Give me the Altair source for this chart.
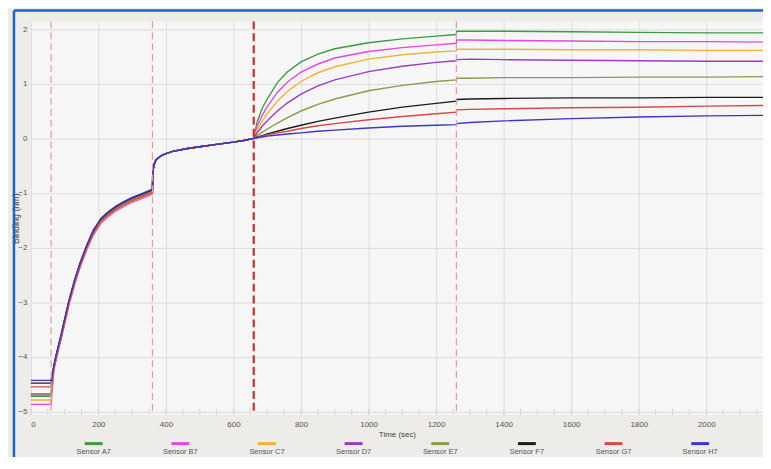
import altair as alt
import pandas as pd

# ---------------- data ----------------
sensors = ["Sensor A7", "Sensor B7", "Sensor C7", "Sensor D7",
           "Sensor E7", "Sensor F7", "Sensor G7", "Sensor H7"]
colors = ["#3e9a3e", "#e04ae0", "#f2b23a", "#9a3ac8",
          "#8c9a4a", "#1c1c1c", "#d84848", "#3838c4"]

# baseline (0-60 s): flat level of each sensor
baseline_t = [0, 60]
baseline_level = [-4.72, -4.87, -4.79, -4.68, -4.70, -4.48, -4.55, -4.43]

# loading step (60-360 s): shared curve + small per-sensor shift
load_t = [68, 75, 90, 100, 113, 130, 145, 165, 185, 208, 230, 252, 275, 300, 330, 360]
load_v = [-4.20, -4.00, -3.62, -3.35, -3.00, -2.62, -2.33, -2.00, -1.72, -1.50,
          -1.38, -1.28, -1.20, -1.12, -1.05, -0.97]
load_shift = [0.00, -0.05, -0.03, 0.01, 0.00, 0.03, -0.02, 0.04]

# second baseline (360-660 s)
base2_t = [361, 365, 370, 385, 400, 420, 460, 500, 550, 600, 630, 660]
base2_v = [-0.62, -0.48, -0.40, -0.32, -0.28, -0.24, -0.19, -0.155, -0.11, -0.07, -0.04, 0.0]

# association (660-1260 s)
assoc_t = [660, 670, 685, 700, 730, 760, 800, 850, 900, 1000, 1100, 1200, 1260]
assoc_v = [
    [0, 0.30, 0.55, 0.72, 1.02, 1.22, 1.40, 1.54, 1.64, 1.75, 1.82, 1.87, 1.90],
    [0, 0.22, 0.42, 0.58, 0.84, 1.03, 1.21, 1.36, 1.47, 1.59, 1.66, 1.71, 1.74],
    [0, 0.15, 0.32, 0.45, 0.68, 0.86, 1.04, 1.20, 1.31, 1.45, 1.53, 1.58, 1.60],
    [0, 0.10, 0.22, 0.32, 0.50, 0.65, 0.81, 0.96, 1.07, 1.22, 1.32, 1.39, 1.42],
    [0, 0.05, 0.11, 0.17, 0.28, 0.38, 0.50, 0.62, 0.72, 0.87, 0.97, 1.04, 1.07],
    [0, 0.02, 0.05, 0.08, 0.13, 0.18, 0.24, 0.31, 0.37, 0.48, 0.57, 0.64, 0.68],
    [0, 0.015, 0.04, 0.06, 0.10, 0.13, 0.18, 0.23, 0.27, 0.34, 0.40, 0.45, 0.48],
    [0, 0.01, 0.025, 0.04, 0.06, 0.08, 0.10, 0.13, 0.15, 0.19, 0.22, 0.24, 0.25],
]

# dissociation (1260-2168 s)
diss_t = [1261, 1300, 1400, 1600, 1800, 2000, 2168]
diss_v = [
    [1.96, 1.96, 1.96, 1.95, 1.94, 1.93, 1.93],
    [1.80, 1.80, 1.79, 1.78, 1.77, 1.77, 1.76],
    [1.63, 1.63, 1.63, 1.62, 1.62, 1.61, 1.61],
    [1.44, 1.45, 1.44, 1.43, 1.42, 1.41, 1.41],
    [1.10, 1.10, 1.11, 1.11, 1.12, 1.12, 1.13],
    [0.71, 0.72, 0.73, 0.74, 0.74, 0.75, 0.75],
    [0.52, 0.53, 0.54, 0.56, 0.57, 0.59, 0.60],
    [0.27, 0.29, 0.32, 0.36, 0.39, 0.41, 0.42],
]

step_events = [60, 360, 1260]
assoc_event = [660]
x_ticks = [0, 200, 400, 600, 800, 1000, 1200, 1400, 1600, 1800, 2000]
minor_ticks = [50, 100, 150, 250, 300, 350, 450, 500, 550, 650, 700, 750, 850, 900, 950,
               1050, 1100, 1150, 1250, 1300, 1350, 1450, 1500, 1550, 1650, 1700, 1750,
               1850, 1900, 1950, 2050, 2100, 2150]
y_ticks = [-5, -4, -3, -2, -1, 0, 1, 2]

# ---------------- build table ----------------
rows = []
for i, s in enumerate(sensors):
    for t in baseline_t:
        rows.append({"sensor": s, "t": t, "v": baseline_level[i]})
    for t, v in zip(load_t, load_v):
        rows.append({"sensor": s, "t": t, "v": v + load_shift[i]})
    for t, v in zip(base2_t, base2_v):
        rows.append({"sensor": s, "t": t, "v": v})
    for t, v in zip(assoc_t[1:], assoc_v[i][1:]):
        rows.append({"sensor": s, "t": t, "v": v})
    for t, v in zip(diss_t, diss_v[i]):
        rows.append({"sensor": s, "t": t, "v": v})
df = pd.DataFrame(rows)

FONT = "Liberation Sans Narrow, Arial Narrow, Liberation Sans, sans-serif"
W, H = 737, 396

xscale = alt.Scale(domain=[0, 2168], nice=False, zero=False)
yscale = alt.Scale(domain=[-5.06, 2.14], nice=False, zero=False)
cscale = alt.Scale(domain=sensors, range=colors)
xaxis = alt.Axis(values=x_ticks, title="Time (sec)", labelPadding=6,
                 titlePadding=2, format="d")


def xenc():
    return alt.X("t:Q", scale=xscale, axis=xaxis, title="Time (sec)")


lines = alt.Chart(df).mark_line(strokeWidth=1.4).encode(
    x=xenc(),
    y=alt.Y("v:Q", scale=yscale,
            axis=alt.Axis(values=y_ticks, title="Binding (nm)", labelPadding=4,
                          titleFontSize=9, titleX=-10, titleY=H / 2, format="d")),
    color=alt.Color("sensor:N", scale=cscale, legend=None),
    order=alt.Order("t:Q"),
)

minor = alt.Chart(pd.DataFrame({"t": minor_ticks + x_ticks})).mark_rule(
    color="#d6d6d6", strokeWidth=1
).encode(x=xenc(), y=alt.value(H - 6), y2=alt.value(H))

ev1 = alt.Chart(pd.DataFrame({"t": step_events})).mark_rule(
    color="#e29c9c", strokeWidth=1.2, strokeDash=[7, 4]
).encode(x=xenc())

ev2 = alt.Chart(pd.DataFrame({"t": assoc_event})).mark_rule(
    color="#c83030", strokeWidth=2.2, strokeDash=[8, 4]
).encode(x=xenc())

frame_df = pd.DataFrame({"k": [0]})
frame_left = alt.Chart(frame_df).mark_rule(color="#1e64c8", strokeWidth=2.5).encode(
    x=alt.value(-17), y=alt.value(-11), y2=alt.value(H + 60))
frame_top = alt.Chart(frame_df).mark_rule(color="#1e64c8", strokeWidth=2.5).encode(
    x=alt.value(-17), x2=alt.value(W + 10), y=alt.value(-11))

plot = alt.layer(minor, lines, ev1, ev2, frame_left, frame_top)

# legend drawn under the plot with its own point scale
leg_df = pd.DataFrame({"sensor": sensors})
lscale = alt.Scale(domain=sensors, padding=0.45)
leg_sym = alt.Chart(leg_df).mark_rule(strokeWidth=3, xOffset=-9, x2Offset=9).encode(
    x=alt.X("sensor:N", scale=lscale, axis=None, sort=sensors),
    x2="sensor:N",
    y=alt.value(H + 29),
    color=alt.Color("sensor:N", scale=cscale, legend=None),
)
leg_txt = alt.Chart(leg_df).mark_text(fontSize=7.5, font=FONT, color="#555555",
                                      baseline="middle").encode(
    x=alt.X("sensor:N", scale=lscale, axis=None, sort=sensors),
    y=alt.value(H + 37),
    text="sensor:N",
)
legend = alt.layer(leg_sym, leg_txt)

chart = alt.layer(plot, legend).resolve_scale(
    x="independent"
).resolve_axis(
    x="independent"
).properties(
    width=W, height=H,
    view=alt.ViewBackground(fill="#f6f6f6", stroke=None),
    background="#edece8",
    autosize=alt.AutoSizeParams(type="none"),
    padding={"left": 23, "top": 12, "right": 0, "bottom": 41},
).configure_axis(
    grid=True, gridColor="#dcdcdc", gridWidth=1, domain=False, ticks=False,
    labelFont=FONT, labelFontSize=8, labelColor="#555555",
    titleFont=FONT, titleFontSize=8, titleColor="#444444", titleFontWeight="normal",
)

chart.save("out.html", embed_options={"renderer": "svg", "actions": False})
